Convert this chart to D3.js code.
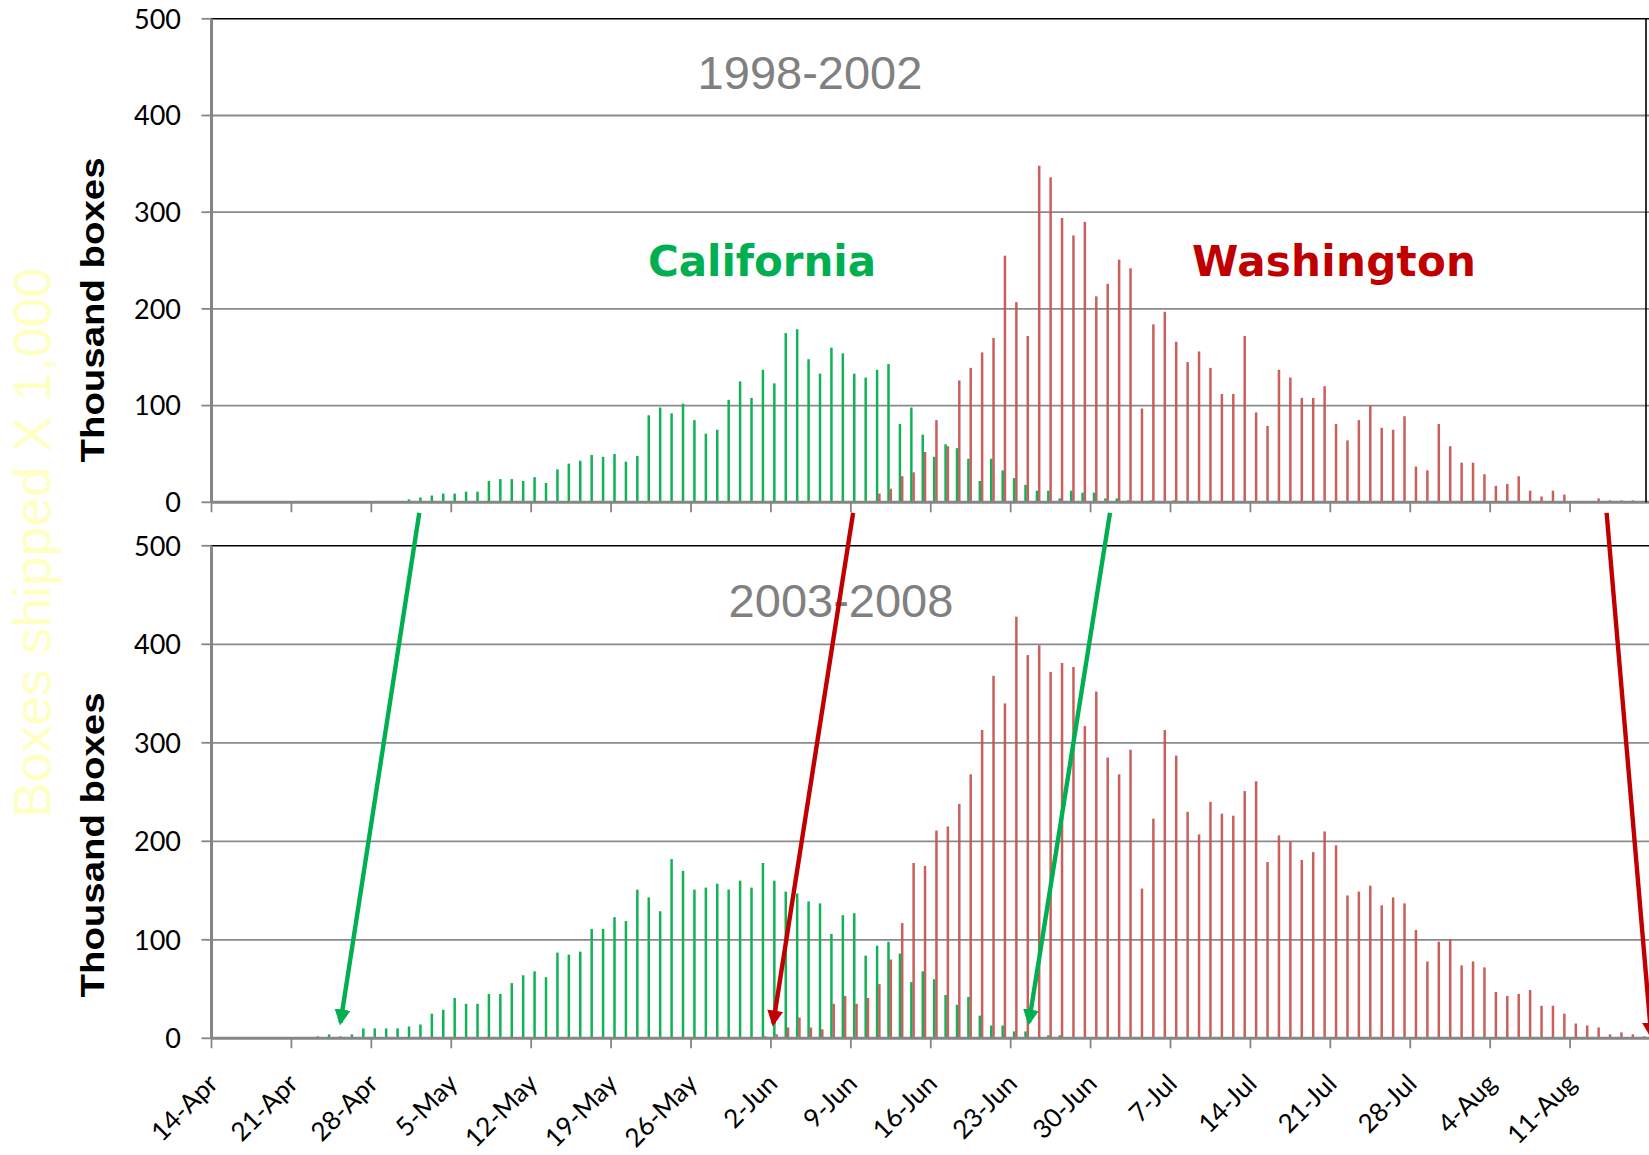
<!DOCTYPE html>
<html>
<head>
<meta charset="utf-8">
<script src="https://cdn.jsdelivr.net/npm/d3@7"></script>
<style>
body {margin:0; background:#fff;}
svg {display:block; background:#fff;}
</style>
</head>
<body>
<svg id="chart"></svg>
<script>
// daily shipments, thousand boxes, day 0 = 14-Apr
var tickLabels = ["14-Apr","21-Apr","28-Apr","5-May","12-May","19-May","26-May","2-Jun","9-Jun",
                  "16-Jun","23-Jun","30-Jun","7-Jul","14-Jul","21-Jul","28-Jul","4-Aug","11-Aug"]
var tickDays = [0,7,14,21,28,35,42,49,56,63,70,77,84,91,98,105,112,119]
var yTicks = [0,100,200,300,400,500]

var caEarly = [0,0,1,1,0,1,1,1,1,1, 1,1,0,0,0,0,0,3,5,7,
               9,9,11,11,22,24,24,22,26,20, 34,40,43,49,47,50,42,48,90,98,
               92,102,85,71,75,106,125,108,137,123, 175,179,148,133,160,154,133,129,137,143,
               81,98,70,47,60,56,45,22,45,33, 25,18,12,12,4,12,10,10,4,4,
               2,0,2,0,2,0,0,0,0,0, 0,0,0,0,0,0,0,0,0,0,
               0,0,0,0,0,0,0,0,0,0, 0,0,0,0,0,0,0,0,0,0,
               0,0,0,0,0,0]
var waEarly = [0,0,0,0,0,0,0,0,0,0, 0,0,0,0,0,0,0,0,0,0,
               0,0,0,0,0,0,0,0,0,0, 0,0,0,0,0,0,0,0,0,0,
               0,0,0,0,0,0,0,0,0,0, 0,0,0,0,0,0,0,0,9,14,
               27,31,52,85,58,126,139,155,170,255, 207,172,348,336,294,276,290,213,226,251,
               242,97,184,197,166,145,156,139,112,112, 172,93,79,137,129,108,108,120,81,64,
               85,100,77,75,89,37,33,81,58,41, 41,29,17,19,27,12,6,12,8,0,
               0,4,2,2,2,0]
var caLate = [0,0,0,0,0,0,0,0,0,2, 4,2,4,10,10,10,10,12,14,25,
              29,41,35,35,45,45,56,64,68,62, 87,85,88,111,111,123,119,151,143,129,
              182,170,151,153,157,151,160,153,178,160, 149,147,139,137,106,125,127,84,94,98,
              86,57,68,60,44,34,42,23,13,13, 7,7,0,3,3,0,0,0,0,0,
              0,0,0,0,0,0,0,0,0,0, 0,0,0,0,0,0,0,0,0,0,
              0,0,0,0,0,0,0,0,0,0, 0,0,0,0,0,0,0,0,0,0,
              0,0,0,0,0,0]
var waLate = [0,0,0,0,0,0,0,0,0,0, 0,0,0,0,0,0,0,0,0,0,
              0,0,0,0,0,0,0,0,0,0, 0,0,0,0,0,0,0,0,0,0,
              0,0,0,0,0,0,0,0,2,4, 11,21,11,9,35,43,35,41,55,80,
              117,178,175,211,215,238,268,313,368,340, 428,389,399,372,381,377,317,352,285,268,
              293,152,223,313,287,230,207,240,228,226, 251,261,179,206,200,181,189,210,196,145,
              149,155,135,143,137,110,78,98,100,74, 78,72,47,43,45,49,33,33,25,15,
              13,11,4,6,4,2]

// season shift arrows: [day, value] in top panel -> [day, value] in bottom panel
var arrowFrom = [[18.2,-11],[56.2,-11],[78.7,-11],[122.2,-11]]
var arrowTo = [[11.3,16],[49.2,15],[71.6,16],[126.1,3]]
var arrowColor = ["#00b050","#c00000","#00b050","#c00000"]

var screen = {width:1649, height:1155}
var svg = d3.select("#chart")
    .attr("width", screen.width)
    .attr("height", screen.height)

var xScale = d3.scaleLinear()
    .domain([0,126])
    .range([211.5,1650])

var panels = [
    {ca:caEarly, wa:waEarly, top:18.8, bottom:502.3, title:"1998-2002", tx:810, ty:89, label:310},
    {ca:caLate, wa:waLate, top:545.8, bottom:1038.3, title:"2003-2008", tx:841, ty:617, label:845}
]
panels.forEach(function(p){
    p.y = d3.scaleLinear().domain([0,500]).range([p.bottom,p.top])
})

var drawPanel = function(target, p, showLabels)
{
    var g = target.append("g")
    var left = xScale.range()[0]

    g.selectAll(".grid")
        .data(yTicks.filter(function(t){return t>0 && t<500}))
        .enter()
        .append("line")
        .attr("x1", left).attr("x2", screen.width)
        .attr("y1", function(t){return p.y(t)})
        .attr("y2", function(t){return p.y(t)})
        .attr("stroke", "#8a8a8a")
        .attr("stroke-width", 1.8)

    // plot border on top
    g.append("line")
        .attr("x1", left-1).attr("x2", screen.width)
        .attr("y1", p.y(500)).attr("y2", p.y(500))
        .attr("stroke", "#000")
        .attr("stroke-width", 1.6)

    var bw = 2.5
    g.selectAll(".ca")
        .data(p.ca)
        .enter()
        .append("rect")
        .attr("x", function(v,i){return xScale(i+0.3)-bw/2})
        .attr("width", bw)
        .attr("y", function(v){return p.y(v)})
        .attr("height", function(v){return p.y(0)-p.y(v)})
        .attr("fill", "#12b356")
    g.selectAll(".wa")
        .data(p.wa)
        .enter()
        .append("rect")
        .attr("x", function(v,i){return xScale(i+0.5)-bw/2})
        .attr("width", bw)
        .attr("y", function(v){return p.y(v)})
        .attr("height", function(v){return p.y(0)-p.y(v)})
        .attr("fill", "#c4524f")
        .attr("fill-opacity", 0.92)

    // axes
    g.append("line")
        .attr("x1", left).attr("x2", left)
        .attr("y1", p.y(500)).attr("y2", p.y(0))
        .attr("stroke", "#868686").attr("stroke-width", 3)
    g.append("line")
        .attr("x1", left).attr("x2", screen.width)
        .attr("y1", p.y(0)).attr("y2", p.y(0))
        .attr("stroke", "#868686").attr("stroke-width", 3)
    g.selectAll(".yt")
        .data(yTicks)
        .enter()
        .append("line")
        .attr("x1", left-10).attr("x2", left)
        .attr("y1", function(t){return p.y(t)})
        .attr("y2", function(t){return p.y(t)})
        .attr("stroke", "#868686").attr("stroke-width", 1.8)
    g.selectAll(".xt")
        .data(tickDays)
        .enter()
        .append("line")
        .attr("x1", function(d){return xScale(d)})
        .attr("x2", function(d){return xScale(d)})
        .attr("y1", p.y(0)).attr("y2", p.y(0)+10)
        .attr("stroke", "#868686").attr("stroke-width", 1.8)

    g.selectAll(".ylab")
        .data(yTicks)
        .enter()
        .append("text")
        .text(function(t){return t})
        .attr("x", 181)
        .attr("y", function(t){return p.y(t)})
        .attr("dy", "0.36em")
        .attr("text-anchor", "end")
        .style("font-family", "Lato")
        .style("font-size", "27px")
        .attr("fill", "#000")

    g.append("text")
        .text(p.title)
        .attr("x", p.tx).attr("y", p.ty)
        .attr("text-anchor", "middle")
        .style("font-family", "Liberation Sans")
        .style("font-size", "47px")
        .attr("fill", "#808080")

    g.append("text")
        .text("Thousand boxes")
        .attr("text-anchor", "middle")
        .attr("transform", "translate(104,"+p.label+") rotate(-90)")
        .attr("textLength", 305)
        .attr("lengthAdjust", "spacingAndGlyphs")
        .style("font-family", "Liberation Sans")
        .style("font-weight", "bold")
        .style("font-size", "34px")
        .attr("fill", "#000")

    if (showLabels)
    {
        g.selectAll(".xlab")
            .data(tickDays)
            .enter()
            .append("text")
            .text(function(d,i){return tickLabels[i]})
            .attr("text-anchor", "end")
            .attr("transform", function(d){return "translate("+(xScale(d)+8)+","+(p.y(0)+47)+") rotate(-45)"})
            .style("font-family", "Lato")
            .style("font-size", "26px")
            .attr("fill", "#000")
    }
}

drawPanel(svg, panels[0], false)
drawPanel(svg, panels[1], true)

// right border of top plot
svg.append("line")
    .attr("x1", 1646).attr("x2", 1646)
    .attr("y1", panels[0].y(500)).attr("y2", panels[0].y(0))
    .attr("stroke", "#000").attr("stroke-width", 1.6)

var labels = svg.append("g")
labels.append("text")
    .text("California")
    .attr("x", 762).attr("y", 276)
    .attr("text-anchor", "middle")
    .attr("textLength", 228)
    .style("font-family", "DejaVu Sans")
    .style("font-weight", "bold")
    .style("font-size", "42px")
    .attr("fill", "#00b050")
labels.append("text")
    .text("Washington")
    .attr("x", 1334).attr("y", 276)
    .attr("text-anchor", "middle")
    .attr("textLength", 284)
    .style("font-family", "DejaVu Sans")
    .style("font-weight", "bold")
    .style("font-size", "42px")
    .attr("fill", "#c00000")
labels.append("text")
    .text("Boxes shipped X 1,000")
    .attr("text-anchor", "middle")
    .attr("transform", "translate(50,543) rotate(-90)")
    .attr("textLength", 550)
    .attr("lengthAdjust", "spacingAndGlyphs")
    .style("font-family", "Liberation Sans")
    .style("font-size", "52px")
    .attr("fill", "#ffffc2")

// arrows
var defs = svg.append("defs")
arrowColor.forEach(function(c,i){
    defs.append("marker")
        .attr("id", "head"+i)
        .attr("markerUnits", "userSpaceOnUse")
        .attr("markerWidth", 18).attr("markerHeight", 18)
        .attr("refX", 13).attr("refY", 8)
        .attr("orient", "auto")
        .append("path")
        .attr("d", "M0,0 L16,8 L0,16 Z")
        .attr("fill", c)
})
svg.append("g")
    .selectAll("line")
    .data(arrowFrom)
    .enter()
    .append("line")
    .attr("x1", function(a){return xScale(a[0])})
    .attr("y1", function(a){return panels[0].y(a[1])})
    .attr("x2", function(a,i){return xScale(arrowTo[i][0])})
    .attr("y2", function(a,i){return panels[1].y(arrowTo[i][1])})
    .attr("stroke", function(a,i){return arrowColor[i]})
    .attr("stroke-width", 4.4)
    .attr("marker-end", function(a,i){return "url(#head"+i+")"})
</script>
</body>
</html>
